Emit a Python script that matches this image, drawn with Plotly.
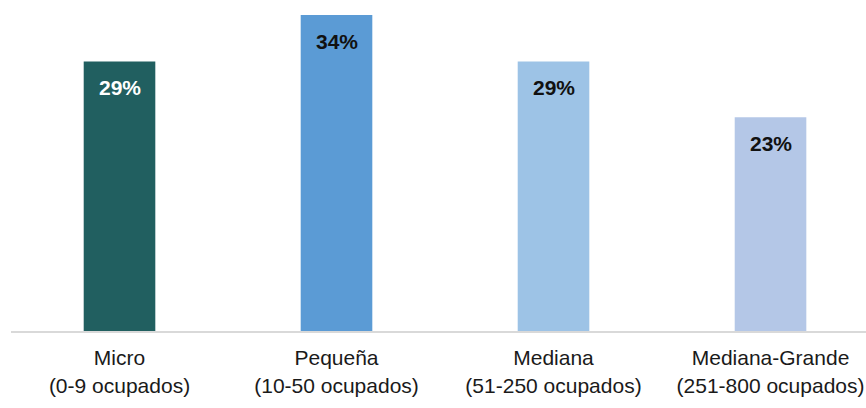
import plotly.graph_objects as go

categories = ["Micro<br>(0-9 ocupados)", "Pequeña<br>(10-50 ocupados)",
              "Mediana<br>(51-250 ocupados)", "Mediana-Grande<br>(251-800 ocupados)"]
values = [29, 34, 29, 23]
labels = ["29%", "34%", "29%", "23%"]
bar_colors = ["#215F60", "#5B9BD5", "#9DC3E6", "#B4C7E7"]
label_colors = ["#FFFFFF", "#111111", "#111111", "#111111"]

fig = go.Figure()
fig.add_trace(go.Bar(
    x=list(range(len(categories))), y=values,
    marker=dict(color=bar_colors, line=dict(width=0)),
    width=0.33, hoverinfo="skip",
))

for i, (v, t, c) in enumerate(zip(values, labels, label_colors)):
    fig.add_annotation(x=i, y=v, text="<b>" + t + "</b>", showarrow=False,
                       yanchor="top", yshift=-13,
                       font=dict(family="Liberation Sans, Arial", size=21, color=c))

fig.update_layout(
    width=866, height=408,
    margin=dict(l=11, r=0, t=15, b=77),
    paper_bgcolor="white", plot_bgcolor="white",
    showlegend=False,
    font=dict(family="Liberation Sans, Arial", size=21, color="#1a1a1a"),
    xaxis=dict(
        tickmode="array", tickvals=list(range(len(categories))), ticktext=categories,
        range=[-0.5, 3.44], showgrid=False, zeroline=False,
        showline=True, linecolor="#D9D9D9", linewidth=2,
        ticks="", ticklabelstandoff=7, tickfont=dict(size=21, color="#1a1a1a"),
    ),
    yaxis=dict(range=[0, 34], visible=False, showgrid=False, zeroline=False),
)

fig.write_html("out.html")
